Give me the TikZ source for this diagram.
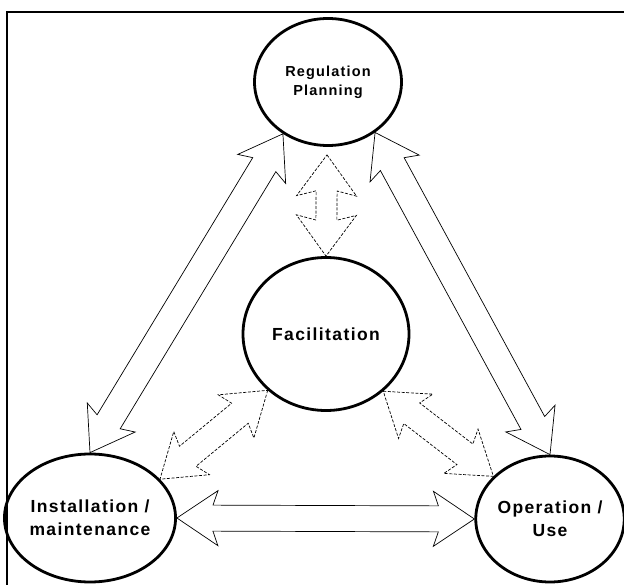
\documentclass[tikz,border=0pt]{standalone}
\usepackage{fontspec}
\setmainfont{Liberation Sans}[LetterSpace=8]
\usetikzlibrary{
    calc,
    positioning,
    shapes.geometric
}
\tikzset{
    % Stages
    stage/.style={ellipse,draw,line width=2.8pt,inner sep=0pt,align=center,
        font=\bfseries\fontsize{17.5}{23}\selectfont},
    small stage/.style={stage,font=\bfseries\fontsize{14.5}{19}\selectfont},
    %
    % Block arrows
    block arrow/.style={draw,line width=.7pt,line join=miter},
    dashed block arrow/.style={block arrow,dash pattern=on 3pt off 1.6pt}
}
% double block arrow: [style]{tip}{tip}{shaft half width}{head half width}{head length}
\newcommand\dblarrow[6][block arrow]{%
    \draw[#1] (#2)
        -- ($(#2)!#6+5pt!(#3)!#5!90:(#3)$)
        -- ($(#2)!#6!(#3)!#4!90:(#3)$)
        -- ($(#3)!#6!(#2)!#4!-90:(#2)$)
        -- ($(#3)!#6+5pt!(#2)!#5!-90:(#2)$)
        -- (#3)
        -- ($(#3)!#6+5pt!(#2)!#5!90:(#2)$)
        -- ($(#3)!#6!(#2)!#4!90:(#2)$)
        -- ($(#2)!#6!(#3)!#4!-90:(#3)$)
        -- ($(#2)!#6+5pt!(#3)!#5!-90:(#3)$)
        -- cycle;}

\begin{document}
\begin{tikzpicture}[x=1pt,y=-1pt]
    \useasboundingbox (0,0) rectangle (624,585);
    \draw[line width=2pt] (7,640) -- (7,12) -- (680,12);

    \node[small stage,minimum width=147pt,minimum height=127pt] (reg) at (328,82) {Regulation\\Planning};
    \node[stage,minimum width=166pt,minimum height=153pt] (fac) at (326,334) {Facilitation};
    \node[stage,minimum width=148pt,minimum height=128pt] (inst) at (90,518) {Installation /\\maintenance};
    \node[stage,minimum width=144pt,minimum height=126pt] (op) at (550,519) {Operation /\\Use};

    % solid arrows between the outer stages
    \dblarrow{reg.-131}{inst.north}{13.5pt}{28pt}{36pt}
    \dblarrow{reg.-47}{op.north}{13.5pt}{28pt}{36pt}
    \dblarrow{inst.east}{op.west}{13pt}{27.5pt}{36pt}

    % dashed arrows to facilitation
    \coordinate (r1) at ($(reg.south)+(-1,8)$);
    \dblarrow[dashed block arrow]{r1}{fac.north}{10.5pt}{30pt}{36pt}
    \dblarrow[dashed block arrow]{fac.-136}{inst.29}{13pt}{28pt}{36pt}
    \dblarrow[dashed block arrow]{fac.-45}{op.143}{13pt}{28pt}{36pt}
\end{tikzpicture}
\end{document}
